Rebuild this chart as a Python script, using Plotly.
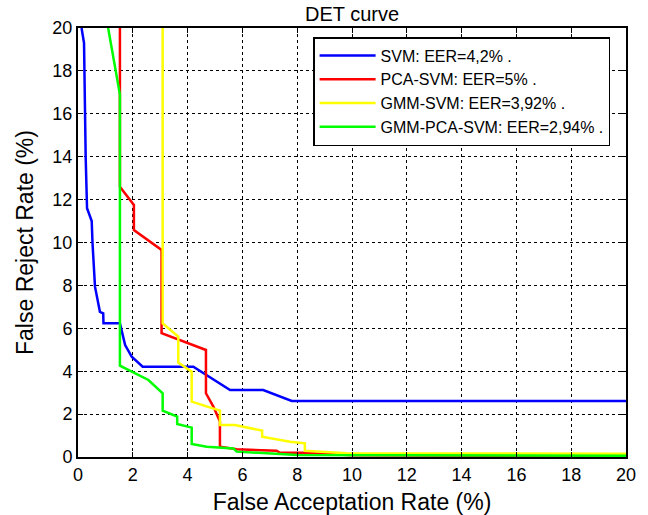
import plotly.graph_objects as go

svm_x = [0.13, 0.22, 0.28, 0.33, 0.5, 0.53, 0.62, 0.80, 0.92, 0.93, 1.53, 1.72, 1.96, 2.36, 4.21, 5.55, 6.76, 7.8, 20]
svm_y = [20, 19.3, 14.0, 11.6, 11.0, 9.97, 7.94, 6.77, 6.7, 6.23, 6.23, 5.22, 4.68, 4.21, 4.21, 3.12, 3.12, 2.61, 2.61]

pca_x = [1.53, 1.53, 2.04, 2.04, 3.05, 3.05, 4.67, 4.67, 4.94, 5.18, 5.18, 5.79, 7.25, 7.37, 8.22, 10.0, 20]
pca_y = [20, 12.6, 11.75, 10.58, 9.65, 5.77, 4.99, 2.97, 2.35, 1.65, 0.48, 0.36, 0.29, 0.2, 0.2, 0.08, 0.04]

gmm_x = [3.09, 3.09, 3.66, 3.66, 4.15, 4.15, 5.18, 5.18, 5.72, 6.72, 6.72, 7.74, 8.28, 8.28, 9.8, 16.5, 20]
gmm_y = [20, 6.23, 5.61, 4.4, 3.98, 2.58, 2.16, 1.49, 1.49, 1.23, 0.95, 0.71, 0.64, 0.29, 0.17, 0.17, 0.15]

gpca_x = [1.1, 1.53, 1.53, 2.57, 3.09, 3.09, 3.62, 3.62, 4.15, 4.15, 4.7, 5.67, 5.79, 6.76, 8.0, 20]
gpca_y = [20, 16.9, 4.26, 3.59, 2.97, 2.16, 1.88, 1.54, 1.37, 0.61, 0.48, 0.4, 0.25, 0.17, 0.09, 0.06]

names = ["SVM: EER=4,2% .", "PCA-SVM: EER=5% .", "GMM-SVM: EER=3,92% .", "GMM-PCA-SVM: EER=2,94% ."]
colors = ["#0000ff", "#ff0000", "#ffff00", "#00ff00"]
tick_vals = list(range(0, 21, 2))

FONT = "Liberation Sans, Arial, Helvetica"

fig = go.Figure()
for i, (xs, ys, n, c) in enumerate(zip([svm_x, pca_x, gmm_x, gpca_x], [svm_y, pca_y, gmm_y, gpca_y], names, colors)):
    fig.add_trace(go.Scatter(x=xs, y=ys, mode="lines", name=n, legendgroup=f"g{i}",
                             line=dict(color=c, width=2.5)))

axis_common = dict(
    range=[0, 20], tickvals=tick_vals, showgrid=True, gridcolor="black", griddash="dot",
    gridwidth=1, showline=True, linecolor="black", linewidth=2, mirror="ticks",
    ticks="inside", ticklen=5, tickcolor="black", zeroline=False, automargin=False,
    tickfont=dict(family=FONT, size=18, color="black"),
)

fig.update_layout(
    width=648, height=515,
    margin=dict(l=78, r=22, t=28, b=58),
    paper_bgcolor="white", plot_bgcolor="white",
    title=dict(text="DET curve", x=0.5, xref="paper", xanchor="center",
               yref="container", y=0.973, yanchor="middle",
               font=dict(family=FONT, size=20, color="black")),
    xaxis=dict(axis_common, title=dict(text="False Acceptation Rate (%)", standoff=12,
               font=dict(family=FONT, size=23, color="black"))),
    yaxis=dict(axis_common, title=dict(text="False Reject Rate (%)", standoff=12,
               font=dict(family=FONT, size=23, color="black"))),
    legend=dict(x=0.429, y=0.979, xanchor="left", yanchor="top", bordercolor="black",
                borderwidth=1.5, bgcolor="white", tracegroupgap=0, itemwidth=56,
                font=dict(family=FONT, size=16, color="black")),
    showlegend=True,
)

fig.write_html("out.html", config={"displayModeBar": False},
               post_script="document.body.style.margin='0';")
